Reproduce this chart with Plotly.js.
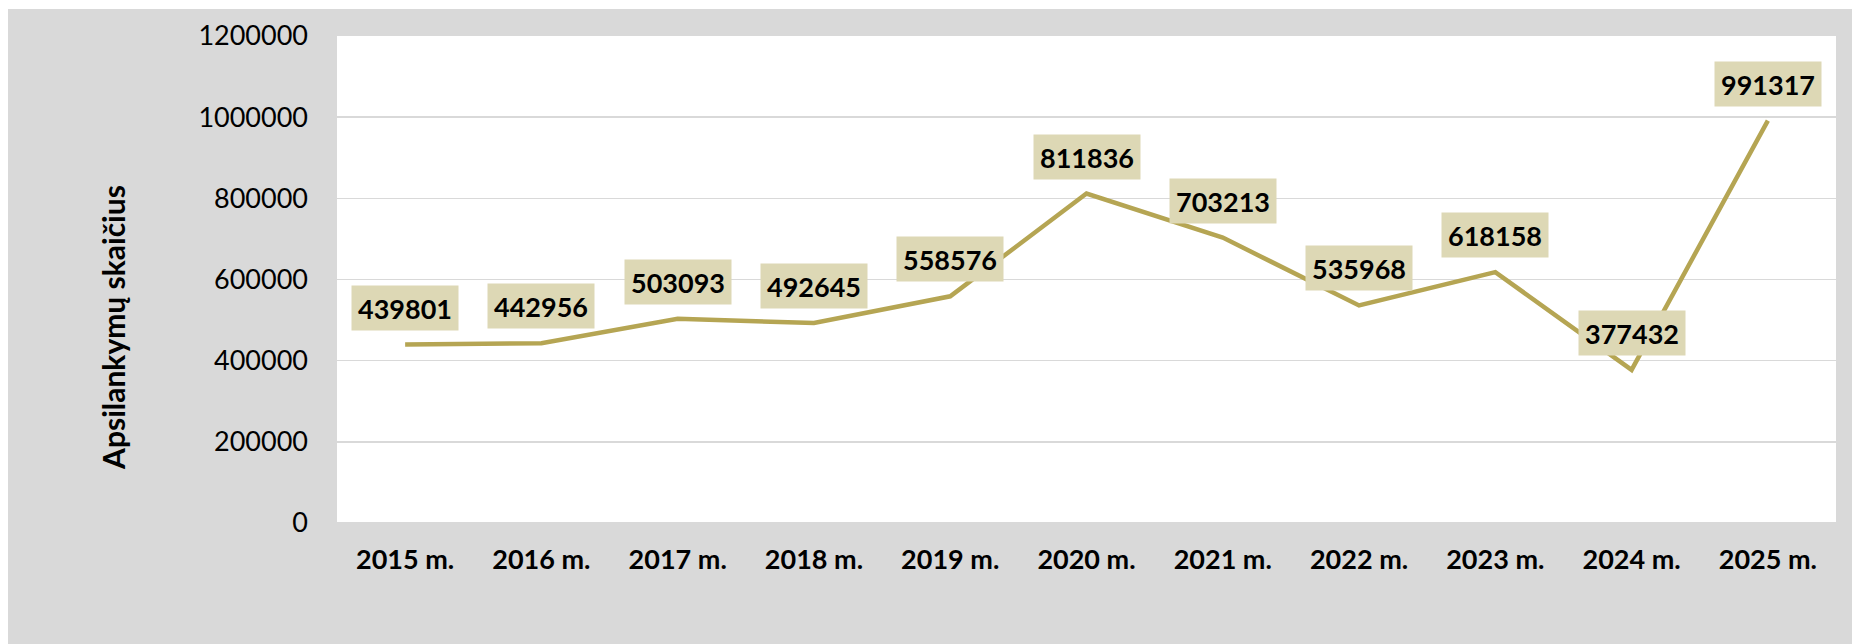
<!DOCTYPE html>
<html>
<head>
<meta charset="utf-8">
<script src="https://cdn.plot.ly/plotly-3.0.1.min.js"></script>
<style>
  html, body { margin: 0; padding: 0; background: #ffffff; }
  #wrap { position: absolute; left: 8px; top: 9px; width: 1844px; height: 635px; }
</style>
</head>
<body>
<div id="wrap"></div>
<script>
const years = ["2015 m.", "2016 m.", "2017 m.", "2018 m.", "2019 m.", "2020 m.", "2021 m.", "2022 m.", "2023 m.", "2024 m.", "2025 m."];
const visits = [439801, 442956, 503093, 492645, 558576, 811836, 703213, 535968, 618158, 377432, 991317];
const yTitle = "Apsilankymų skaičius";

const lineColor = "#B5A553";
const boxColor = "#DDD8B5";
const fontFam = "Lato, 'Open Sans', sans-serif";

const trace = {
  type: "scatter",
  mode: "lines",
  x: years,
  y: visits,
  line: { color: lineColor, width: 4.5 },
  hoverinfo: "skip"
};

const labels = years.map((yr, i) => ({
  x: yr, y: visits[i], xref: "x", yref: "y",
  text: "<b>" + visits[i] + "</b>",
  showarrow: false,
  yshift: 37,
  xanchor: "center", yanchor: "middle",
  bgcolor: boxColor,
  borderpad: 5,
  width: 96, height: 34,
  font: { family: fontFam, size: 27, color: "#000000" }
}));

labels.push({
  text: "<b>" + yTitle + "</b>",
  xref: "paper", yref: "paper",
  x: -0.1495, y: 0.4025,
  xanchor: "center", yanchor: "middle",
  textangle: -90,
  showarrow: false,
  font: { family: fontFam, size: 30, color: "#000000" }
});

const layout = {
  width: 1844, height: 635,
  margin: { l: 329, r: 16, t: 27, b: 121 },
  paper_bgcolor: "#D9D9D9",
  plot_bgcolor: "#FFFFFF",
  showlegend: false,
  font: { family: fontFam, color: "#000000" },
  xaxis: {
    type: "category",
    range: [-0.5, 10.5],
    showgrid: false,
    zeroline: false,
    showline: false,
    ticks: "",
    ticklabelstandoff: 18,
    tickfont: { family: fontFam, size: 27, color: "#000000", weight: "bold" },
    fixedrange: true
  },
  yaxis: {
    range: [0, 1200000],
    dtick: 200000,
    tick0: 0,
    tickformat: "d",
    showgrid: true,
    gridcolor: "#D9D9D9",
    gridwidth: 1.5,
    zeroline: true,
    zerolinecolor: "#D9D9D9",
    zerolinewidth: 1.5,
    showline: false,
    ticks: "",
    ticklabelstandoff: 28,
    tickfont: { family: fontFam, size: 27, color: "#000000" },
    fixedrange: true
  },
  annotations: labels
};

Plotly.newPlot("wrap", [trace], layout, { displayModeBar: false, staticPlot: true });
</script>
</body>
</html>
